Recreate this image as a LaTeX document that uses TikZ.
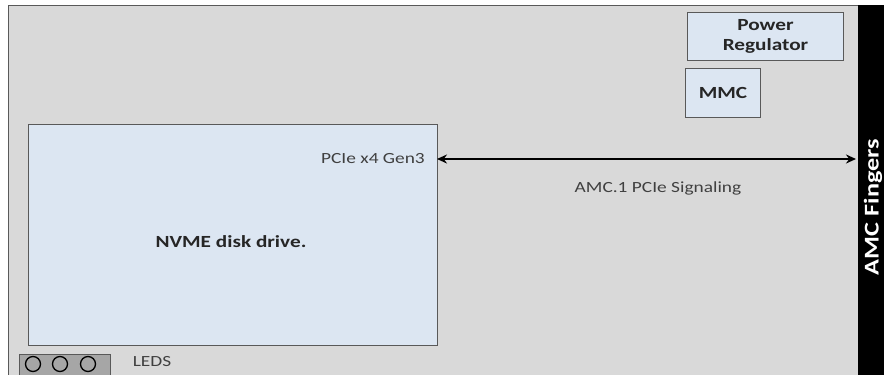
\documentclass[tikz,border=0pt]{standalone}
\usepackage{fontspec}
\setmainfont{Carlito}[FakeStretch=1.25]
\usetikzlibrary{arrows.meta}
\definecolor{boardgray}{HTML}{D9D9D9}
\definecolor{boxblue}{HTML}{DCE6F2}
\definecolor{edgegray}{HTML}{595959}
\definecolor{ledgray}{HTML}{A6A6A6}
\tikzset{
  block/.style={draw=edgegray,fill=boxblue,line width=1pt,inner sep=0pt,anchor=north west},
  boldlbl/.style={font=\fontsize{17}{20}\selectfont\bfseries,text=black!85},
  led/.style={circle,draw=black,line width=1.3pt,minimum size=15pt,inner sep=0pt}
}
\begin{document}
\begin{tikzpicture}[x=1pt,y=-1pt,font=\fontsize{15.5}{18}\selectfont]
   \useasboundingbox (0,0) rectangle (884,375);
   \fill[white] (0,0) rectangle (884,375);
   \node at (8,5) [anchor=north west,fill=boardgray,draw=edgegray,line width=1.2pt,minimum width=850pt,minimum height=375pt,inner sep=0pt] (board) {};
   \fill[black] (858,5) rectangle (884,375);
   \node at (873,207) [rotate=90,text=white,font=\fontsize{21}{24}\selectfont\bfseries] (fingers) {AMC Fingers};
   \node at (28,124) [block,minimum width=409pt,minimum height=221pt] (nvme) {};
   \node at (231,242) [boldlbl] (nvmelbl) {NVME disk drive.};
   \node at (425,159) [anchor=east,inner sep=0pt,text=black!75] (pcie) {PCIe x4 Gen3};
   \node at (687,12) [block,minimum width=156pt,minimum height=48pt] (pwr) {};
   \node at (pwr.center) [align=center,boldlbl] (pwrlbl) {Power\\Regulator};
   \node at (685,68) [block,minimum width=75pt,minimum height=49pt] (mmc) {};
   \node at (mmc.center) [boldlbl] (mmclbl) {MMC};
   \coordinate (sigL) at (437,159);
   \coordinate (sigR) at (856,159);
   \draw[{Stealth[length=10pt,width=9pt]}-{Stealth[length=10pt,width=9pt]},line width=1.8pt] (sigL) -- (sigR);
   \node at (658,188) [text=black!75] (siglbl) {AMC.1 PCIe Signaling};
   \node at (19,354) [anchor=north west,fill=ledgray,draw=edgegray,line width=1pt,minimum width=91pt,minimum height=25pt,inner sep=0pt] (ledbox) {};
   \node at (33,364) [led] (l1) {};
   \node at (60,364) [led] (l2) {};
   \node at (88,364) [led] (l3) {};
   \node at (152,362) [text=black!75] (ledlbl) {LEDS};
\end{tikzpicture}
\end{document}
